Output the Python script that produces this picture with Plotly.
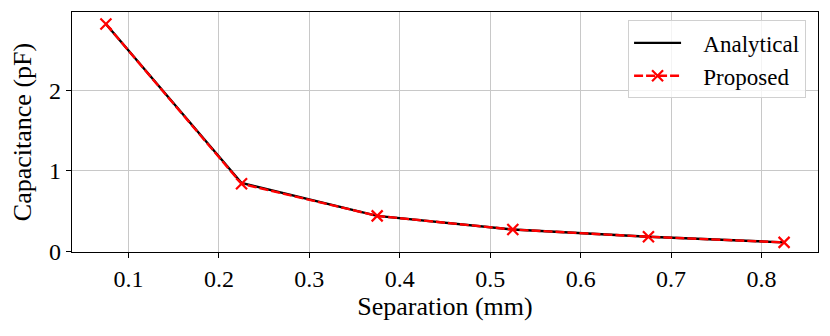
import plotly.graph_objects as go

# separation (mm) and capacitance (pF)
separation = [0.075, 0.225, 0.375, 0.525, 0.675, 0.825]
analytical = [2.83, 0.85, 0.44, 0.27, 0.18, 0.11]
proposed = [2.83, 0.84, 0.44, 0.27, 0.18, 0.11]

font_family = "Liberation Serif"
pad = "\u00a0\u00a0\u00a0"  # extra gap between legend sample and label

fig = go.Figure()
fig.add_trace(go.Scatter(
    x=separation, y=analytical, mode="lines", name=pad + "Analytical",
    line=dict(color="black", width=2.4)
))
fig.add_trace(go.Scatter(
    x=separation, y=proposed, mode="lines+markers", name=pad + "Proposed",
    line=dict(color="red", width=2.4, dash="9px,3px"),
    marker=dict(symbol="x-thin-open", size=11, line=dict(color="red", width=2.2))
))

axis_common = dict(
    showline=True, mirror=True, linecolor="black", linewidth=1.3,
    ticks="outside", ticklen=5, tickwidth=1.2, tickcolor="black",
    showgrid=True, gridcolor="#c8c8c8", gridwidth=1, zeroline=False,
    automargin=False,
    tickfont=dict(size=24, family=font_family, color="black"),
)

fig.update_xaxes(
    range=[0.0375, 0.8625], tickvals=[0.1, 0.2, 0.3, 0.4, 0.5, 0.6, 0.7, 0.8],
    ticktext=["0.1", "0.2", "0.3", "0.4", "0.5", "0.6", "0.7", "0.8"],
    title=dict(text="Separation (mm)", font=dict(size=26, family=font_family, color="black"), standoff=4),
    **axis_common
)
fig.update_yaxes(
    range=[-0.01, 2.98], tickvals=[0, 1, 2],
    title=dict(text="Capacitance (pF)", font=dict(size=26, family=font_family, color="black"), standoff=10),
    **axis_common
)

# page body has an 8px margin, so the figure is shrunk by that amount
fig.update_layout(
    width=822, height=328,
    margin=dict(l=64, r=12, t=4, b=84),
    paper_bgcolor="white", plot_bgcolor="white",
    legend=dict(
        x=0.984, y=0.965, xanchor="right", yanchor="top",
        bgcolor="rgba(255,255,255,0.8)", bordercolor="#d0d0d0", borderwidth=1,
        font=dict(size=23, family=font_family, color="black"),
        itemwidth=47, tracegroupgap=0,
    ),
    showlegend=True,
)

fig.write_html("out.html")
